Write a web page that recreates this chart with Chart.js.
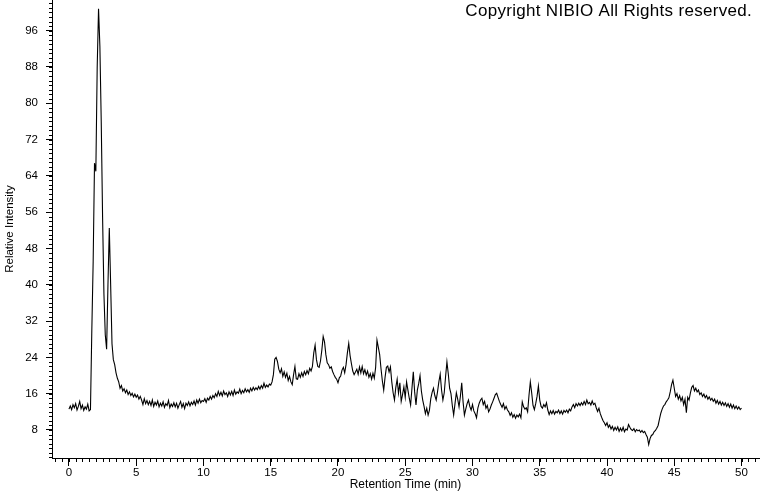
<!DOCTYPE html>
<html>
<head>
<meta charset="utf-8">
<title>Chromatogram</title>
<script src="https://cdn.jsdelivr.net/npm/chart.js@4.4.0/dist/chart.umd.min.js"></script>
<style>
    html, body { margin: 0; padding: 0; background: #fff; }
    #wrap { position: relative; width: 760px; height: 492px; }
</style>
</head>
<body>
<div id="wrap"><canvas id="chromChart"></canvas></div>
<script>
// Échantillonnage : un point toutes les 0.1 min, de 0 à 50 min
const sampleStart = 0;
const sampleStep = 0.1;

// Intensité relative, une ligne par minute
const intensity = [
    12.6, 13.3, 12.5, 13.6, 12.9, 13.8, 12.4, 13.2, 14.3, 12.7,   // 0
    13.5, 12.3, 13.1, 12.6, 13.7, 12.2, 12.5, 30.0, 45.0, 66.8,   // 1
    65.0, 88.0, 100.8, 92.5, 76.0, 55.0, 38.0, 29.0, 25.8, 40.0,  // 2
    52.5, 40.0, 27.0, 23.5, 22.4, 20.6, 19.4, 18.6, 17.2, 17.8,   // 3
    16.6, 17.1, 16.2, 16.8, 15.8, 16.4, 15.6, 16.1, 15.3, 15.9,   // 4
    15.2, 15.7, 14.8, 15.4, 14.6, 13.6, 14.9, 13.8, 14.5, 13.6,   // 5
    14.3, 13.4, 14.6, 13.2, 14.1, 13.5, 14.4, 13.1, 13.9, 13.3,   // 6
    14.2, 13.0, 13.8, 13.4, 14.5, 12.9, 13.7, 13.2, 14.0, 13.1,   // 7
    13.9, 12.8, 13.6, 14.3, 13.0, 13.8, 12.7, 13.9, 13.4, 14.2,   // 8
    13.3, 14.1, 13.6, 14.4, 13.5, 14.6, 13.9, 14.8, 14.0, 14.5,   // 9
    14.3, 14.9, 14.1, 15.0, 14.6, 15.4, 14.8, 15.6, 15.1, 16.0,   // 10
    15.4, 16.5, 15.6, 16.3, 15.5, 16.6, 15.8, 16.2, 15.4, 16.4,   // 11
    15.7, 16.5, 15.6, 16.8, 15.9, 16.4, 16.1, 17.0, 16.0, 16.7,   // 12
    16.2, 17.1, 16.4, 16.9, 16.3, 17.2, 16.6, 17.4, 16.8, 17.3,   // 13
    16.9, 17.6, 17.0, 17.8, 17.2, 18.3, 17.4, 17.9, 17.5, 18.1,   // 14
    17.9, 18.6, 20.2, 23.6, 24.0, 23.1, 21.4, 20.6, 21.5, 19.8,   // 15
    20.8, 19.6, 20.5, 18.9, 19.8, 18.6, 18.0, 20.2, 22.0, 19.3,   // 16
    19.2, 20.4, 19.6, 20.6, 19.8, 20.9, 20.2, 21.1, 20.4, 21.6,   // 17
    21.0, 22.0, 25.0, 26.7, 23.5, 22.0, 21.8, 23.2, 25.6, 28.6,   // 18
    27.4, 24.6, 22.8, 22.4, 21.6, 21.9, 20.9, 20.2, 19.6, 19.2,   // 19
    18.4, 19.5, 19.9, 21.2, 21.8, 20.6, 22.4, 25.0, 27.1, 24.4,   // 20
    22.6, 21.0, 20.2, 20.8, 21.4, 20.3, 21.9, 20.6, 22.0, 20.4,   // 21
    21.3, 20.1, 21.0, 19.6, 20.4, 19.2, 20.5, 19.4, 21.8, 27.8,   // 22
    26.2, 24.6, 21.5, 18.8, 16.8, 19.6, 21.8, 22.1, 20.8, 21.9,   // 23
    18.6, 16.2, 14.6, 17.4, 19.2, 16.1, 18.4, 14.3, 15.8, 17.5,   // 24
    15.2, 18.6, 16.8, 15.0, 13.5, 17.2, 20.8, 16.4, 13.5, 16.8,   // 25
    18.2, 20.0, 16.6, 14.6, 13.2, 11.6, 12.8, 11.3, 12.4, 14.9,   // 26
    16.3, 17.2, 15.6, 14.6, 16.4, 18.6, 20.3, 16.8, 14.6, 16.2,   // 27
    19.8, 23.0, 20.4, 17.2, 16.0, 13.4, 11.3, 13.8, 16.2, 14.8,   // 28
    13.1, 15.4, 18.4, 14.2, 11.3, 12.6, 13.8, 14.6, 13.2, 12.4,   // 29
    13.6, 12.2, 11.6, 10.7, 12.8, 13.9, 14.6, 15.0, 13.6, 14.3,   // 30
    12.8, 13.4, 12.0, 12.6, 13.5, 14.2, 15.0, 15.8, 16.1, 15.2,   // 31
    14.3, 13.6, 13.0, 13.8, 12.6, 13.2, 12.4, 12.0, 11.2, 11.8,   // 32
    10.8, 11.4, 10.6, 11.3, 10.9, 11.5, 10.7, 14.2, 13.1, 12.6,   // 33
    12.9, 12.0, 15.6, 18.6, 16.2, 13.4, 12.5, 13.8, 15.4, 17.7,   // 34
    14.6, 13.2, 12.8, 13.6, 13.1, 14.0, 12.4, 11.4, 12.2, 11.6,   // 35
    12.3, 11.5, 12.1, 11.8, 12.4, 11.6, 12.2, 11.5, 12.3, 11.9,   // 36
    12.4, 11.8, 12.6, 12.2, 13.1, 13.6, 12.9, 13.8, 13.3, 13.9,   // 37
    13.4, 14.0, 13.5, 14.3, 13.6, 14.6, 13.8, 14.1, 13.5, 14.4,   // 38
    13.6, 13.9, 12.9, 12.1, 12.8, 11.6, 10.8, 10.1, 9.6, 9.0,     // 39
    9.6, 8.6, 9.1, 8.2, 8.8, 7.9, 8.6, 8.0, 8.7, 7.7,             // 40
    8.4, 7.8, 8.6, 7.6, 8.2, 8.0, 9.2, 8.6, 8.1, 7.9,             // 41
    8.3, 7.6, 8.1, 7.8, 8.0, 7.5, 7.9, 7.4, 7.7, 7.0,             // 42
    6.4, 4.8, 6.1, 6.8, 7.0, 7.6, 7.9, 8.4, 9.0, 10.4,            // 43
    11.7, 12.6, 13.3, 13.6, 14.2, 14.6, 15.1, 16.4, 18.0, 19.0,   // 44
    17.2, 15.4, 16.0, 14.8, 15.6, 14.4, 15.2, 13.6, 14.8, 11.8,   // 45
    15.2, 14.6, 16.2, 17.4, 17.8, 16.6, 17.2, 16.4, 16.8, 15.8,   // 46
    16.2, 15.4, 15.9, 15.1, 15.6, 14.8, 15.3, 14.6, 15.0, 14.3,   // 47
    14.8, 13.9, 14.5, 13.7, 14.3, 13.5, 14.1, 13.4, 14.0, 13.2,   // 48
    13.8, 13.0, 13.7, 12.8, 13.5, 12.7, 13.3, 12.6, 13.1, 12.5,   // 49
    12.8                                                          // 50
];

// Axes
const xMajorTicks = [0, 5, 10, 15, 20, 25, 30, 35, 40, 45, 50];
const yMajorTicks = [8, 16, 24, 32, 40, 48, 56, 64, 72, 80, 88, 96];
const xMinorStep = 0.5;
const yMinorStep = 1;
const xRange = [-1.26, 51.3];
const yRange = [1.83, 102.75];

const xTitle = 'Retention Time (min)';
const yTitle = 'Relative Intensity';
const copyrightText = 'Copyright NIBIO All Rights reserved.';

const FONT = 'Arial, "Liberation Sans", sans-serif';

// Points (temps, intensité)
const points = intensity.map((v, i) => ({
    x: +(sampleStart + i * sampleStep).toFixed(2),
    y: v
}));

// Petites graduations + texte de copyright
const minorTicksPlugin = {
    id: 'minorTicks',
    afterDraw(chart) {
        const ctx = chart.ctx;
        const xs = chart.scales.x;
        const ys = chart.scales.y;
        const area = chart.chartArea;
        ctx.save();
        ctx.strokeStyle = '#000';
        ctx.lineWidth = 1;
        ctx.beginPath();
        for (let v = Math.ceil(xRange[0] / xMinorStep) * xMinorStep; v <= xRange[1]; v += xMinorStep) {
            const px = Math.round(xs.getPixelForValue(v)) + 0.5;
            ctx.moveTo(px, area.bottom);
            ctx.lineTo(px, area.bottom + 4);
        }
        for (let v = Math.ceil(yRange[0]); v <= yRange[1]; v += yMinorStep) {
            const py = Math.round(ys.getPixelForValue(v)) + 0.5;
            ctx.moveTo(area.left, py);
            ctx.lineTo(area.left - 3, py);
        }
        ctx.stroke();

        ctx.fillStyle = '#000';
        ctx.font = '17px ' + FONT;
        ctx.letterSpacing = '0.3px';
        ctx.textAlign = 'right';
        ctx.textBaseline = 'alphabetic';
        ctx.fillText(copyrightText, area.right - 7, area.top + 16);
        ctx.restore();
    }
};

function initChart() {
    Chart.defaults.color = '#000';
    Chart.defaults.font.family = FONT;

    const ctx = document.getElementById('chromChart').getContext('2d');
    new Chart(ctx, {
        type: 'line',
        data: {
            datasets: [{
                label: 'Intensity',
                data: points,
                borderColor: '#000',
                borderWidth: 1.1,
                pointRadius: 0,
                tension: 0,
                fill: false
            }]
        },
        options: {
            responsive: true,
            maintainAspectRatio: false,
            animation: false,
            layout: { padding: { left: 0, right: 1, top: 0, bottom: 0 } },
            plugins: {
                legend: { display: false },
                tooltip: { enabled: false }
            },
            scales: {
                x: {
                    type: 'linear',
                    min: xRange[0],
                    max: xRange[1],
                    afterBuildTicks: (scale) => {
                        scale.ticks = xMajorTicks.map(v => ({ value: v }));
                    },
                    afterFit: (scale) => {
                        scale.height = 34;
                        scale.paddingLeft = 0;
                        scale.paddingRight = 0;
                    },
                    ticks: {
                        autoSkip: false,
                        maxRotation: 0,
                        padding: 0,
                        font: { size: 11.5 },
                        callback: (v) => String(v)
                    },
                    grid: {
                        drawOnChartArea: false,
                        tickLength: 8,
                        tickColor: '#000'
                    },
                    border: { color: '#000', width: 1 },
                    title: {
                        display: true,
                        text: xTitle,
                        font: { size: 12 },
                        padding: { top: 0, bottom: 0 }
                    }
                },
                y: {
                    type: 'linear',
                    min: yRange[0],
                    max: yRange[1],
                    afterBuildTicks: (scale) => {
                        scale.ticks = yMajorTicks.map(v => ({ value: v }));
                    },
                    afterFit: (scale) => {
                        scale.width = 52;
                        scale.paddingTop = 0;
                        scale.paddingBottom = 0;
                    },
                    ticks: {
                        autoSkip: false,
                        padding: 8,
                        font: { size: 11.5 },
                        callback: (v) => String(v)
                    },
                    grid: {
                        drawOnChartArea: false,
                        tickLength: 6,
                        tickColor: '#000'
                    },
                    border: { color: '#000', width: 1 },
                    title: {
                        display: true,
                        text: yTitle,
                        font: { size: 11.5 },
                        padding: { top: 3, bottom: 0 }
                    }
                }
            }
        },
        plugins: [minorTicksPlugin]
    });
}

window.addEventListener('load', initChart);
</script>
</body>
</html>
